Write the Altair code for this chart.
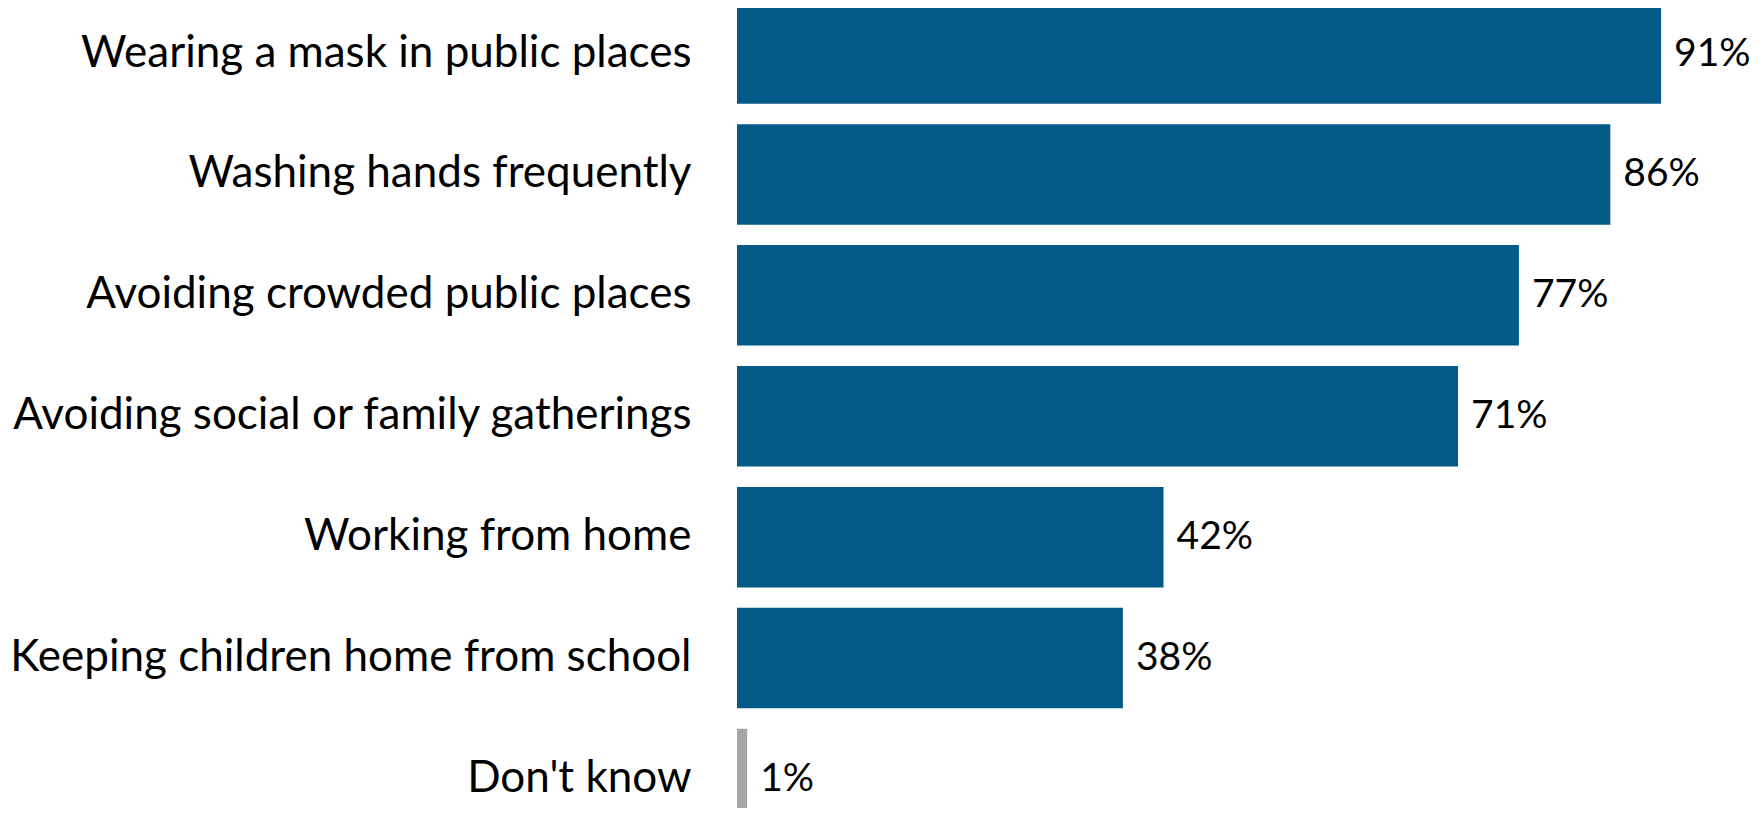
import altair as alt
import pandas as pd

categories = [
    "Wearing a mask in public places",
    "Washing hands frequently",
    "Avoiding crowded public places",
    "Avoiding social or family gatherings",
    "Working from home",
    "Keeping children home from school",
    "Don't know",
]
values = [91, 86, 77, 71, 42, 38, 1]
groups = ["main", "main", "main", "main", "main", "main", "dk"]

df = pd.DataFrame({"category": categories, "value": values, "group": groups})
df["label"] = df["value"].astype(str) + "%"

FONT = "Lato"
FS = 44

y_enc = alt.Y(
    "category:N",
    sort=categories,
    scale=alt.Scale(range=[-4.7, 821.2], paddingInner=0.169, paddingOuter=0),
    axis=alt.Axis(
        title=None,
        ticks=False,
        domain=False,
        grid=False,
        labelPadding=46,
        labelLimit=0,
        labelFont=FONT,
        labelFontSize=FS,
        labelColor="#000000",
        labelAlign="right",
        labelBaseline="middle",
    ),
)
x_enc = alt.X(
    "value:Q",
    scale=alt.Scale(domain=[0, 100], range=[0, 1015.5], nice=False),
    axis=None,
)

bars = alt.Chart(df).mark_bar().encode(
    y=y_enc,
    x=x_enc,
    color=alt.Color(
        "group:N",
        scale=alt.Scale(domain=["main", "dk"], range=["#035A86", "#A6A6A6"]),
        legend=None,
    ),
)

texts = alt.Chart(df).mark_text(
    align="left", baseline="middle", dx=13, font=FONT, fontSize=39, color="#000000"
).encode(
    y=alt.Y("category:N", sort=categories),
    x=alt.X("value:Q"),
    text="label:N",
)

chart = (
    alt.layer(bars, texts)
    .properties(
        width=1000,
        height=800,
        autosize=alt.AutoSizeParams(type="none"),
        padding={"left": 729, "top": 0, "right": 17, "bottom": 0},
        background="white",
    )
    .configure_view(stroke=None)
)

chart.save("out.html", embed_options={"renderer": "svg", "actions": False})
